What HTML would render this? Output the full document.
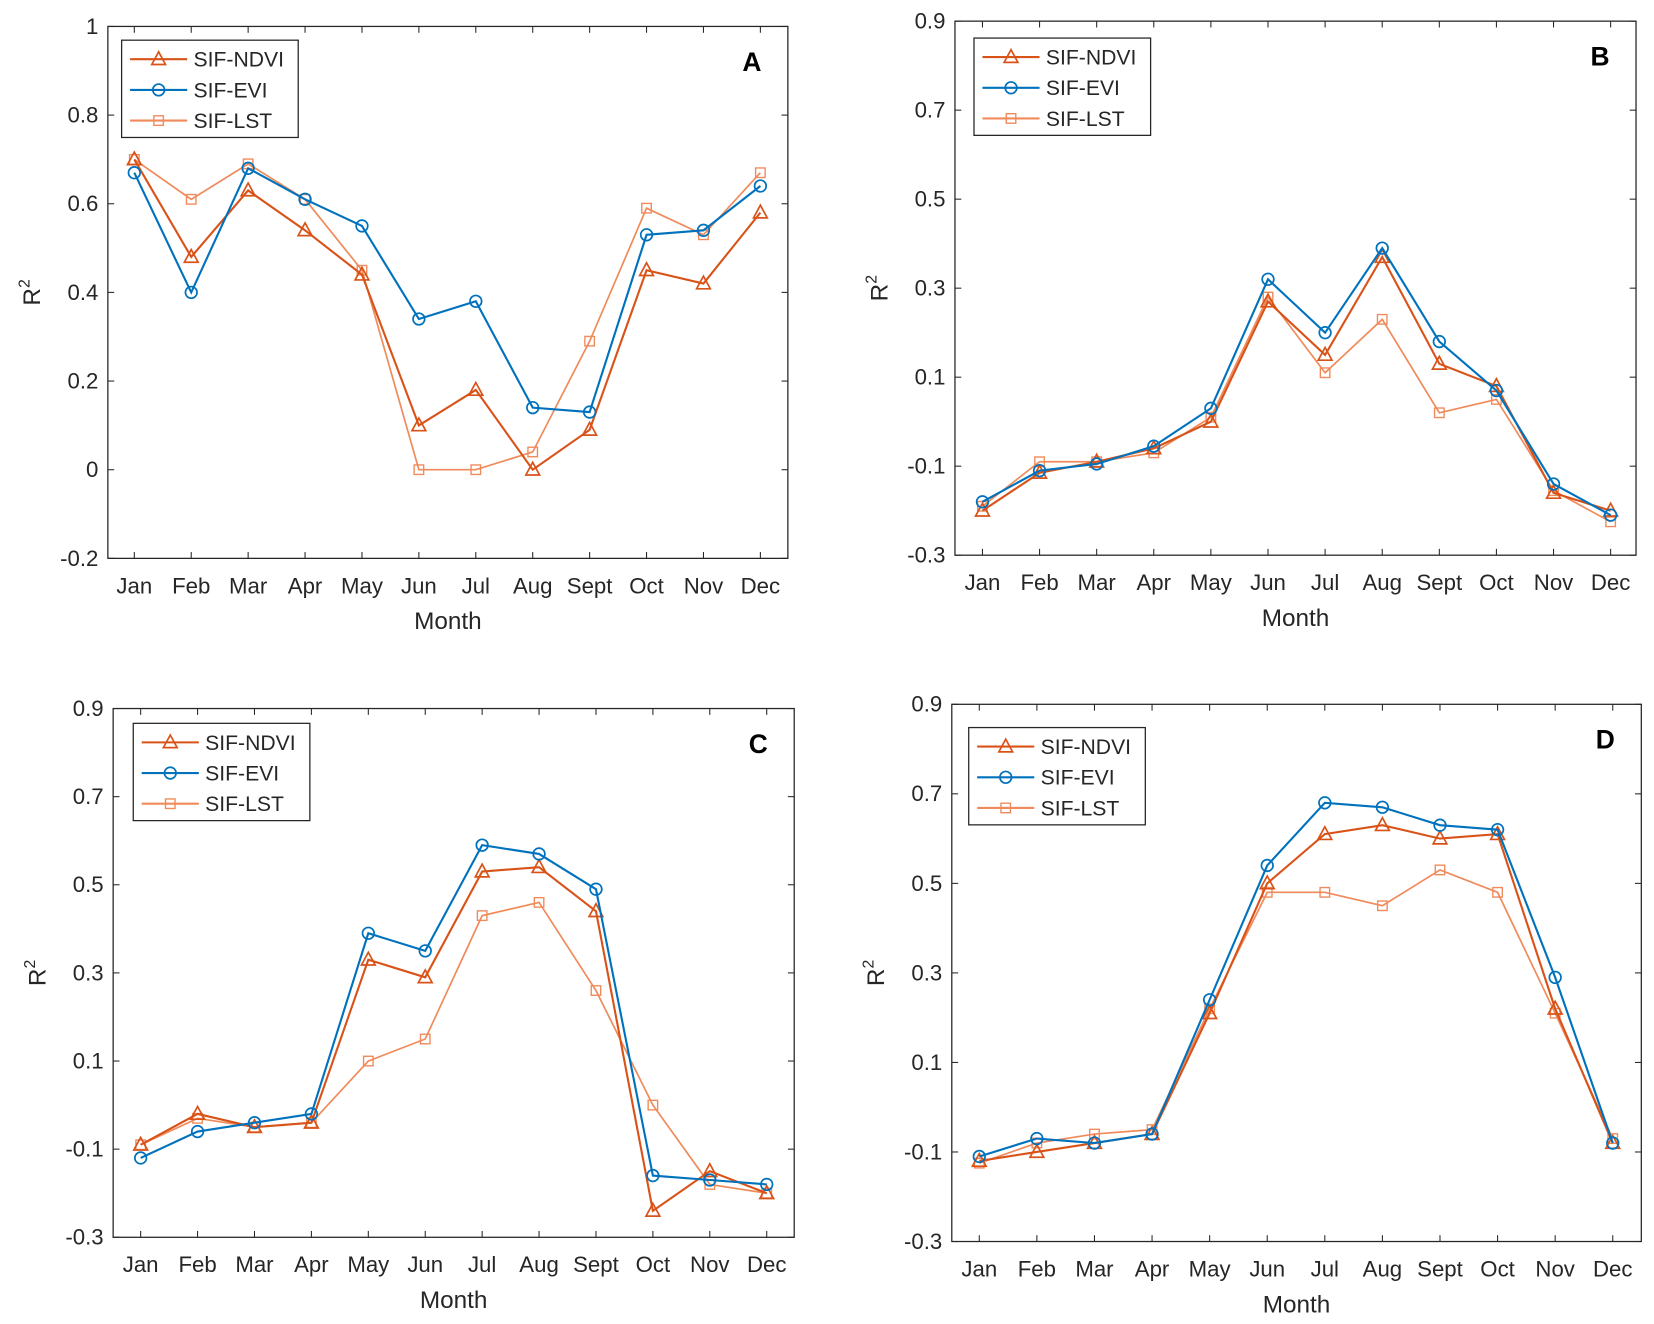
<!DOCTYPE html>
<html><head><meta charset="utf-8"><style>
html,body{margin:0;padding:0;background:#fff;}
svg{display:block;font-family:"Liberation Sans",Arial,sans-serif;}
</style></head><body>
<svg id="s" width="1654" height="1324" viewBox="0 0 1564 1252" preserveAspectRatio="none" xmlns="http://www.w3.org/2000/svg"></svg>
<script>
const S=document.getElementById('s');const NS='http://www.w3.org/2000/svg';
function el(t,a,txt,par){const e=document.createElementNS(NS,t);for(const k in a)e.setAttribute(k,a[k]);if(txt!==undefined)e.textContent=txt;(par||S).appendChild(e);return e;}
const C={n:'#D95319',e:'#0072BD',l:'#F08A5A'};
const months=['Jan','Feb','Mar','Apr','May','Jun','Jul','Aug','Sept','Oct','Nov','Dec'];
const P=[
{L:102,R:745,T:25,B:528,j:127,d:719,y0:-0.2,y1:1,ticks:[-0.2,0,0.2,0.4,0.6,0.8,1],lab:'A',leg:[115,38],
n:[.70,.48,.63,.54,.44,.10,.18,0,.09,.45,.42,.58],e:[.67,.40,.68,.61,.55,.34,.38,.14,.13,.53,.54,.64],l:[.70,.61,.69,.61,.45,0,0,.04,.29,.59,.53,.67]},
{L:903,R:1547,T:20,B:525,j:929,d:1523,y0:-0.3,y1:0.9,ticks:[-0.3,-0.1,0.1,0.3,0.5,0.7,0.9],lab:'B',leg:[921,36],
n:[-.2,-.115,-.09,-.06,0,.27,.15,.37,.13,.08,-.16,-.2],e:[-.18,-.11,-.095,-.055,.03,.32,.2,.39,.18,.07,-.14,-.21],l:[-.19,-.09,-.09,-.07,.01,.28,.11,.23,.02,.05,-.155,-.225]},
{L:107,R:751,T:670,B:1170,j:133,d:725,y0:-0.3,y1:0.9,ticks:[-0.3,-0.1,0.1,0.3,0.5,0.7,0.9],lab:'C',leg:[126,684],
n:[-.09,-.02,-.05,-.04,.33,.29,.53,.54,.44,-.24,-.15,-.2],e:[-.12,-.06,-.04,-.02,.39,.35,.59,.57,.49,-.16,-.17,-.18],l:[-.09,-.03,-.05,-.04,.10,.15,.43,.46,.26,0,-.18,-.2]},
{L:900,R:1552,T:666,B:1174,j:926,d:1525,y0:-0.3,y1:0.9,ticks:[-0.3,-0.1,0.1,0.3,0.5,0.7,0.9],lab:'D',leg:[916,688],
n:[-.12,-.10,-.08,-.06,.21,.50,.61,.63,.60,.61,.22,-.08],e:[-.11,-.07,-.08,-.06,.24,.54,.68,.67,.63,.62,.29,-.08],l:[-.125,-.08,-.06,-.05,.22,.48,.48,.45,.53,.48,.21,-.07]}
];
function marker(k,x,y){
 if(k==='n')el('polygon',{points:`${x},${y-7} ${x-6.5},${y+5} ${x+6.5},${y+5}`,fill:'none',stroke:C.n,'stroke-width':1.6});
 else if(k==='e')el('circle',{cx:x,cy:y,r:5.5,fill:'none',stroke:C.e,'stroke-width':1.6});
 else el('rect',{x:x-4.5,y:y-4.5,width:9,height:9,fill:'none',stroke:C.l,'stroke-width':1.3});
}
P.forEach(p=>{
 const X=i=>p.j+(p.d-p.j)*i/11, Y=v=>p.B-(v-p.y0)/(p.y1-p.y0)*(p.B-p.T);
 el('rect',{x:p.L,y:p.T,width:p.R-p.L,height:p.B-p.T,fill:'#fff',stroke:'#262626','stroke-width':1.2});
 p.ticks.forEach(t=>{const y=Y(t);
  el('line',{x1:p.L,x2:p.L+6,y1:y,y2:y,stroke:'#262626'});el('line',{x1:p.R,x2:p.R-6,y1:y,y2:y,stroke:'#262626'});
  el('text',{x:p.L-9,y:y+7,'text-anchor':'end','font-size':21,fill:'#262626'},(t===0?'0':(t===1?'1':String(t))));});
 months.forEach((m,i)=>{const x=X(i);
  el('line',{x1:x,x2:x,y1:p.B,y2:p.B-6,stroke:'#262626'});el('line',{x1:x,x2:x,y1:p.T,y2:p.T+6,stroke:'#262626'});
  el('text',{x:x,y:p.B+33,'text-anchor':'middle','font-size':21,fill:'#262626'},m);});
 const cx=(p.L+p.R)/2;
 el('text',{x:cx,y:p.B+67,'text-anchor':'middle','font-size':23,fill:'#262626'},'Month');
 const yl=(p.T+p.B)/2, lx=p.L-64;
 const t=el('text',{x:0,y:0,'font-size':23,fill:'#262626',transform:`translate(${lx} ${yl}) rotate(-90)`,'text-anchor':'middle'});
 el('tspan',{},'R',t);
 el('tspan',{dy:-10,'font-size':15},'2',t);
 ['l','n','e'].forEach(k=>{
  el('polyline',{points:p[k].map((v,i)=>X(i)+','+Y(v)).join(' '),fill:'none',stroke:C[k],'stroke-width':k==='l'?1.6:2});
  p[k].forEach((v,i)=>marker(k,X(i),Y(v)));
 });
 const [gx,gy]=p.leg;
 el('rect',{x:gx,y:gy,width:167,height:92,fill:'#fff',stroke:'#262626','stroke-width':1.2});
 [['n','SIF-NDVI'],['e','SIF-EVI'],['l','SIF-LST']].forEach(([k,s],i)=>{const y=gy+18+i*29;
  el('line',{x1:gx+8,x2:gx+62,y1:y,y2:y,stroke:C[k],'stroke-width':2});marker(k,gx+35,y);
  el('text',{x:gx+68,y:y+7,'font-size':20,fill:'#262626'},s);});
 el('text',{x:p.R-34,y:p.T+42,'text-anchor':'middle','font-size':25,'font-weight':'bold',fill:'#000'},p.lab);
});
</script>
</body></html>
